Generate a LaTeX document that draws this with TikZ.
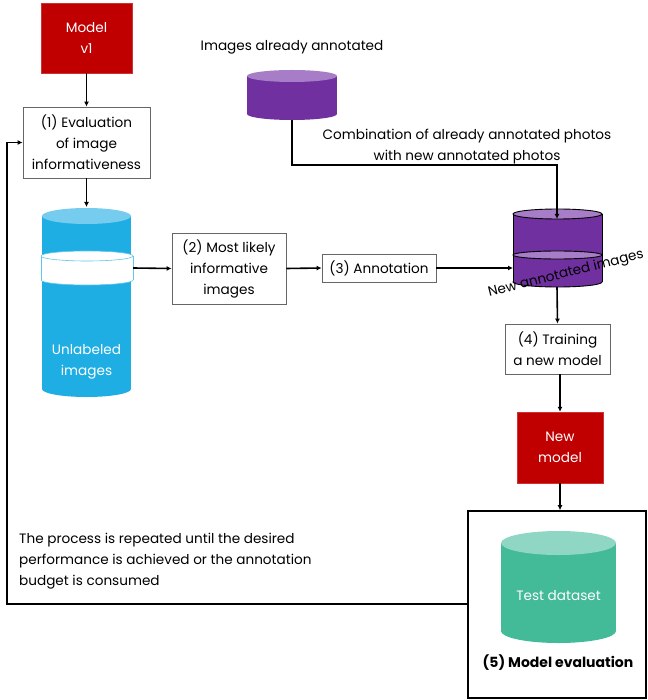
\documentclass[tikz,border=0pt]{standalone}
\usepackage{fontspec}
\setmainfont{Poppins}
\usetikzlibrary{arrows.meta}
\definecolor{dred}{HTML}{C00000}
\definecolor{purp}{HTML}{7030A0}
\definecolor{purpl}{HTML}{A67DC6}
\definecolor{cblue}{HTML}{1FAEE4}
\definecolor{cbluel}{HTML}{76CCEF}
\definecolor{teal}{HTML}{43BA98}
\definecolor{teall}{HTML}{8FD6C4}
\tikzset{
  every node/.style={font=\fontsize{13.6}{21}\selectfont},
  box/.style={draw=black!60, line width=0.8pt, fill=white, align=center, inner sep=1pt},
  redbox/.style={draw=dred!80!white, fill=dred, text=white, align=center, inner sep=1pt},
  arr/.style={line width=1.6pt, -{Latex[length=5pt,width=5pt]}},
  lbl/.style={align=center, inner sep=0pt},
}
\begin{document}
\begin{tikzpicture}[x=1pt,y=-1pt]
\useasboundingbox (0,0) rectangle (647,700);

% ---- purple cylinder (already annotated)
\fill[purp] (247,76) rectangle (337,114);
\fill[purp] (292,114) ellipse [x radius=45, y radius=6];
\fill[purpl] (292,76) ellipse [x radius=45, y radius=6];
\node[minimum width=90, minimum height=50, inner sep=0pt] (pc) at (292,95) {};

% ---- blue cylinder (unlabeled)
\fill[cblue] (42,216) rectangle (131,389);
\fill[cblue] (86.5,389) ellipse [x radius=44.5, y radius=8];
\fill[cbluel] (86.5,216) ellipse [x radius=44.5, y radius=8];
% white band
\filldraw[fill=white, draw=cblue!70, line width=0.6pt] (87,280) ellipse [x radius=46, y radius=5];
\fill[white] (41,256) rectangle (133,280);
\draw[cblue!70, line width=0.6pt] (41,256) -- (41,280) (133,256) -- (133,280);
\filldraw[fill=white, draw=cblue!70, line width=0.6pt] (87,256) ellipse [x radius=46, y radius=5];
\node[minimum width=92, minimum height=24, inner sep=0pt] (band) at (87,268) {};
\node[lbl, text=white] (unl) at (86.5,362) {Unlabeled\\images};

% ---- combined cylinder
\fill[purp] (513,214) rectangle (602,255);
\draw[line width=0.9pt] (513,214) -- (513,255) (602,214) -- (602,255);
\filldraw[fill=purpl, draw=black, line width=0.9pt] (557.5,214) ellipse [x radius=44.5, y radius=5];
\filldraw[fill=purp, draw=black, line width=0.9pt] (557.5,282) ellipse [x radius=44.5, y radius=5];
\fill[purp] (513,255) rectangle (602,282);
\draw[line width=0.9pt] (513,255) -- (513,282) (602,255) -- (602,282);
\filldraw[fill=purpl, draw=black, line width=0.9pt] (557.5,255) ellipse [x radius=44.5, y radius=4];
\node[minimum width=89, minimum height=79, inner sep=0pt] (cc) at (557.5,248) {};
\coordinate (ccin) at (557,219);
\coordinate (ccw) at (513,268);
\node[lbl, rotate=14, font=\fontsize{13.6}{16}\selectfont] (newann) at (566,274) {New annotated images};

% ---- teal cylinder inside big box
\node[draw=black, line width=1.6pt, minimum width=178, minimum height=187, inner sep=0pt] (b5) at (557,604.5) {};
\fill[teal] (501,543) rectangle (616,631);
\fill[teal] (558.5,631) ellipse [x radius=57.5, y radius=12];
\fill[teall] (558.5,543) ellipse [x radius=57.5, y radius=12];
\node[lbl, text=white] (test) at (558.5,596) {Test dataset};
\node[lbl, font=\bfseries\fontsize{14}{16}\selectfont] (eval) at (558,663) {(5) Model evaluation};

% ---- boxes
\node[redbox, minimum width=91, minimum height=70] (m1) at (86.5,38) {Model\\v1};
\node[box, minimum width=127, minimum height=71] (b1) at (86.5,142.5) {(1) Evaluation\\of image\\informativeness};
\node[box, minimum width=114, minimum height=71] (b2) at (229,268.5) {(2) Most likely\\informative\\images};
\node[box, minimum width=114, minimum height=28] (b3) at (379,268) {(3) Annotation};
\node[box, minimum width=105, minimum height=50] (b4) at (557.5,349) {(4) Training\\a new model};
\node[redbox, minimum width=86, minimum height=71] (m2) at (560,447.5) {New\\model};

% ---- texts
\node[lbl] (t1) at (292,47) {Images already annotated};
\node[lbl] (t2) at (467,147) {Combination of already annotated photos\\with new annotated photos};
\node[lbl, align=left, anchor=west] (t3) at (19,561) {The process is repeated until the desired\\performance is achieved or the annotation\\budget is consumed};

% ---- connectors
\draw[arr] (m1) -- (b1);
\draw[arr] (b1) -- (86.5,207);
\draw[arr] (band.east) -- (b2.west);
\draw[arr] (b2.east) -- (b3.west);
\draw[arr] (b3.east) -- (ccw);
\draw[arr] (pc.south) -- (292,165) -| (ccin);
\draw[arr] (557,287) -- (b4.north);
\draw[arr] (b4.south -| m2.north) -- (m2.north);
\draw[arr] (m2.south) -- (b5.north -| m2.south);
\draw[arr] (b5.west |- 0,604) -- (7,604) |- (b1.west);
\end{tikzpicture}
\end{document}
